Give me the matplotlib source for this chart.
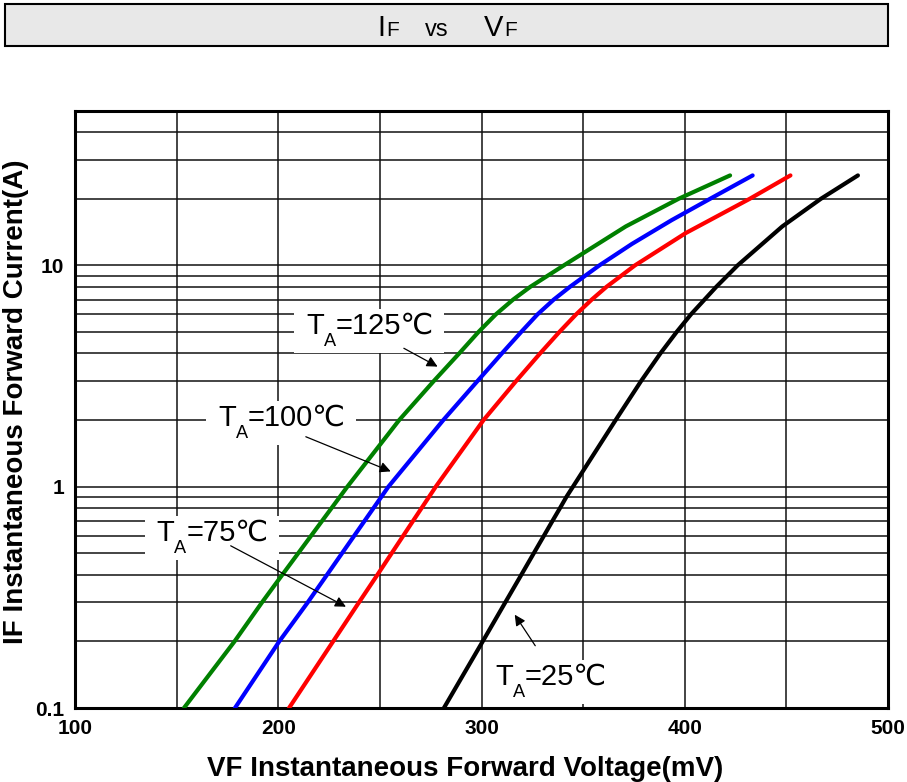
import matplotlib
matplotlib.use('Agg')
import matplotlib.pyplot as plt
from matplotlib import font_manager
from matplotlib.patches import Rectangle
from matplotlib.transforms import Bbox
from matplotlib.ticker import FixedLocator, MultipleLocator, LogLocator, NullFormatter

# Daten (VF in mV, IF in A)
vf_125 = [153.6, 178.5, 192, 202, 234, 259.5, 276.5, 289, 298.5, 307, 315.5, 324, 340.5, 371, 397, 422.3]
if_125 = [0.1, 0.2, 0.3, 0.4, 1.0, 2.0, 3, 4, 5, 6, 7, 8, 10, 15, 20, 25.5]

vf_100 = [178.7, 200.5, 214.5, 224, 254.2, 281.2, 298, 310, 319.5, 327.5, 335.5, 343.5, 358, 374, 393.5, 412.5, 433.4]
if_100 = [0.1, 0.2, 0.3, 0.4, 1.0, 2.0, 3, 4, 5, 6, 7, 8, 10, 12.5, 16, 20, 25.5]

vf_75 = [205.3, 227, 239.7, 248.8, 266.3, 277.5, 301, 317, 328.8, 338.3, 346.5, 354.2, 361.5, 375.5, 400.5, 432, 452]
if_75 = [0.1, 0.2, 0.3, 0.4, 0.7, 1.0, 2.0, 3, 4, 5, 6, 7, 8, 10, 14, 20, 25.5]

vf_25 = [281.5, 300.6, 311.7, 319.6, 325.7, 330.7, 334.9, 338.6, 341.8, 345, 366, 378.5, 388, 396, 403, 415.5, 426, 448, 467, 485.2]
if_25 = [0.1, 0.2, 0.3, 0.4, 0.5, 0.6, 0.7, 0.8, 0.9, 1.0, 2.0, 3, 4, 5, 6, 8, 10, 15, 20, 25.5]

temps = ['125', '100', '75', '25']
label_pos = [(213.7, 4.92), (170.4, 1.887), (140.2, 0.5677), (306.6, 0.1272)]
arrow_tail = [(260.6, 4.28), (212.3, 1.70), (175.4, 0.548), (327.2, 0.1866)]
arrow_head = [(279.6, 3.44), (256.6, 1.16), (234.5, 0.283), (315.6, 0.2705)]

yticks = [0.1, 1, 10]
yticknames = ['0.1', '1', '10']
xticks = [100, 200, 300, 400, 500]

names = {f.name for f in font_manager.fontManager.ttflist}
narrow = 'Liberation Sans Narrow' if 'Liberation Sans Narrow' in names else 'Liberation Sans'
plt.rcParams['font.family'] = ['Liberation Sans', 'DejaVu Sans']

fig = plt.figure(figsize=(9.07, 7.82), dpi=100)
ax = fig.add_axes([75/907, 1-708/782, 813/907, 597.3/782])
r = fig.canvas.get_renderer()

# Titelkasten
fig.add_artist(Rectangle((5/907, 1-46/782), 883/907, 42/782, transform=fig.transFigure,
                         facecolor='#e8e8e8', edgecolor='black', linewidth=1.5))
tfam = [narrow, 'DejaVu Sans']
title_parts = [('I', 21, 377), ('F', 15, None), ('vs', 17, 425), ('V', 21, 484), ('F', 15, None)]
xpos = 0
for s, size, x_start in title_parts:
    if x_start is not None:
        xpos = x_start
    t = fig.text(xpos/907, 1-36/782, s, fontsize=size, family=tfam, va='baseline')
    xpos += t.get_window_extent(r).width + 1

kw = dict(lw=3, zorder=3, solid_joinstyle='round', solid_capstyle='round')
ax.semilogy(vf_125, if_125, color='#008000', **kw)
ax.semilogy(vf_100, if_100, color='#0000ff', **kw)
ax.semilogy(vf_75, if_75, color='#ff0000', **kw)
ax.semilogy(vf_25, if_25, color='black', **kw)

ax.set_xlim(100, 500)
ax.set_ylim(0.1, 50)
ax.xaxis.set_major_locator(FixedLocator(xticks))
ax.xaxis.set_minor_locator(MultipleLocator(50))
ax.yaxis.set_major_locator(FixedLocator(yticks))
ax.yaxis.set_minor_locator(LogLocator(base=10, subs=range(2, 10)))
ax.yaxis.set_minor_formatter(NullFormatter())
ax.set_yticklabels(yticknames)
ax.grid(which='both', color='#111111', lw=1.1)
ax.tick_params(which='both', length=0)
ax.tick_params(axis='both', pad=8, labelsize=15)
for lab in ax.get_xticklabels() + ax.get_yticklabels():
    lab.set_fontweight('bold')
for s in ax.spines.values():
    s.set_linewidth(2.2)

ax.set_xlabel('VF Instantaneous Forward Voltage(mV)', fontsize=20, fontweight='bold')
ax.set_ylabel('IF Instantaneous Forward Current(A)', fontsize=20, fontweight='bold')
ax.xaxis.set_label_coords(0.48, -0.08)
ax.yaxis.set_label_coords(-0.057, 0.512)

# Beschriftungen T_A = ...
lfam = [narrow, 'DejaVu Sans']
fs = 21
for temp, (x, y), tail, head in zip(temps, label_pos, arrow_tail, arrow_head):
    t1 = ax.text(x, y, 'T', fontsize=fs, family=lfam, va='baseline', zorder=6)
    w1 = t1.get_window_extent(r).width * 72 / fig.dpi
    t2 = ax.annotate('A', (x, y), xytext=(w1, -fs*0.42), textcoords='offset points',
                     fontsize=fs*0.62, family=lfam, va='baseline', zorder=6)
    w2 = t2.get_window_extent(r).width * 72 / fig.dpi
    t3 = ax.annotate('=' + temp + '\u2103', (x, y), xytext=(w1 + w2, 0), textcoords='offset points',
                     fontsize=fs, family=lfam, va='baseline', zorder=6)
    u = Bbox.union([t.get_window_extent(r) for t in (t1, t2, t3)])
    inv = ax.transData.inverted()
    (x0, y0), (x1, y1) = inv.transform([[u.x0 - 12, u.y0 - 3], [u.x1 + 10, u.y1 + 3]])
    ax.add_patch(Rectangle((x0, y0), x1 - x0, y1 - y0, facecolor='white', edgecolor='none', zorder=5))
    ax.annotate('', xy=head, xytext=tail,
                arrowprops=dict(arrowstyle='-|>', color='black', lw=0.9, mutation_scale=16), zorder=7)

plt.savefig('out.png', dpi=100)
